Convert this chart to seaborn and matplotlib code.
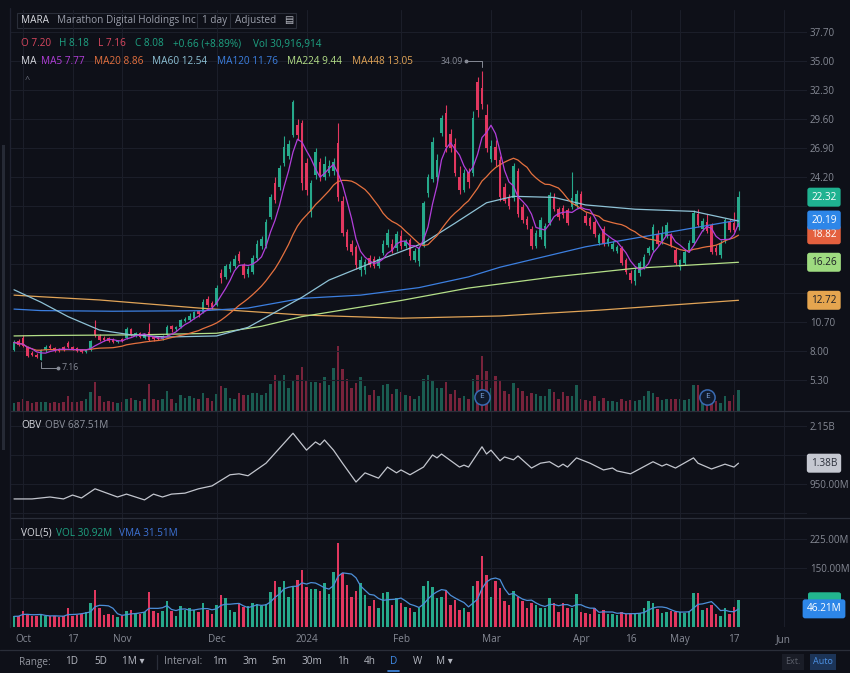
import numpy as np
import pandas as pd
import matplotlib
matplotlib.use("Agg")
import matplotlib.pyplot as plt
import matplotlib.transforms as mtransforms
from matplotlib.patches import Rectangle, FancyBboxPatch
from matplotlib.lines import Line2D
import seaborn as sns

# ---- values ----
# bar index 0 = Mon 2 Oct 2023, last bar 159 = Mon 20 May 2024 (two Sept bars before)
start_idx = -2

opens = [8.10, 8.90, 9.20, 8.40, 7.80, 7.60, 7.20, 8.05, 8.50, 8.30,
         8.20, 8.35, 8.70, 8.40, 8.25, 8.10, 7.90, 8.05, 9.95, 9.40,
         9.25, 9.20, 9.10, 8.80, 9.10, 9.20, 10.00, 9.40, 9.70, 9.20,
         9.80, 9.30, 9.30, 9.10, 9.50, 10.30, 10.00, 10.20, 10.80, 10.90,
         11.10, 11.70, 11.60, 12.80, 12.50, 12.30, 15.30, 14.90, 15.60, 15.90,
         17.00, 16.00, 15.20, 15.40, 16.70, 17.80, 17.80, 20.50, 23.60, 23.30,
         25.50, 26.20, 28.10, 29.00, 29.20, 25.50, 20.90, 24.40, 25.60, 24.20,
         24.60, 24.80, 27.40, 22.00, 19.10, 18.00, 17.70, 15.50, 15.50, 16.70,
         16.60, 15.90, 17.10, 17.90, 18.00, 17.60, 18.70, 17.80, 18.30, 16.50,
         16.40, 17.90, 22.70, 24.00, 24.20, 28.30, 30.20, 28.20, 27.30, 24.20,
         23.00, 24.70, 24.60, 33.00, 32.50, 30.00, 25.90, 27.00, 25.80, 23.30,
         22.30, 22.20, 24.80, 21.40, 20.30, 19.40, 17.80, 18.60, 17.80, 19.90,
         22.20, 21.20, 21.30, 21.10, 21.40, 21.50, 22.60, 20.60, 20.40, 20.00,
         18.10, 19.40, 18.00, 17.50, 17.30, 17.60, 16.50, 15.30, 14.50, 15.30,
         15.80, 17.10, 17.40, 18.90, 18.20, 18.70, 18.80, 17.40, 15.80, 16.20,
         17.40, 18.05, 20.80, 19.40, 20.00, 19.70, 17.60, 16.90, 18.30, 20.00,
         19.90, 19.50]
highs = [9.00, 9.10, 9.50, 8.50, 8.00, 7.80, 8.18, 8.55, 8.65, 8.40,
         8.30, 8.50, 8.95, 8.50, 8.35, 8.20, 8.20, 9.05, 10.90, 9.55,
         9.35, 9.30, 9.20, 9.05, 9.20, 10.20, 10.10, 9.80, 9.80, 9.60,
         10.60, 9.40, 9.40, 9.50, 10.40, 10.40, 10.30, 11.00, 11.20, 11.50,
         11.70, 11.80, 12.80, 13.10, 12.70, 14.10, 15.60, 16.10, 16.40, 16.90,
         17.30, 16.20, 15.90, 16.90, 18.30, 18.70, 20.30, 22.60, 24.20, 25.30,
         28.00, 27.60, 31.40, 29.60, 29.50, 26.00, 23.90, 26.90, 26.00, 26.20,
         25.80, 26.00, 29.20, 22.40, 19.40, 18.30, 17.90, 16.80, 16.60, 16.90,
         16.80, 16.80, 18.30, 19.40, 18.40, 19.20, 19.30, 18.40, 18.50, 17.60,
         17.70, 22.00, 24.50, 27.90, 26.30, 30.00, 30.90, 28.70, 27.80, 25.20,
         24.90, 25.00, 30.30, 33.50, 34.09, 31.00, 27.60, 27.60, 26.20, 23.60,
         22.60, 25.50, 25.00, 21.70, 20.60, 19.60, 19.30, 20.50, 19.90, 22.80,
         22.70, 21.40, 21.60, 21.30, 24.70, 23.00, 22.90, 20.90, 20.60, 20.20,
         19.00, 19.60, 18.60, 18.20, 17.90, 17.80, 16.70, 15.50, 15.80, 16.40,
         17.00, 17.80, 19.80, 19.30, 19.60, 20.00, 19.00, 17.60, 16.60, 17.40,
         18.30, 21.10, 21.20, 20.40, 20.80, 19.90, 17.90, 18.30, 20.40, 20.30,
         20.90, 22.90]
lows = [8.00, 8.50, 8.40, 7.40, 7.50, 7.30, 7.16, 7.95, 8.15, 7.95,
        7.90, 8.00, 8.25, 8.05, 7.90, 7.80, 7.80, 8.00, 9.30, 8.95,
        8.90, 8.85, 8.75, 8.70, 8.80, 9.10, 9.40, 9.30, 9.20, 9.10,
        8.90, 8.90, 9.00, 9.00, 9.40, 9.80, 9.90, 10.10, 10.70, 10.80,
        11.00, 11.20, 11.50, 12.10, 11.90, 12.20, 14.30, 14.70, 15.40, 15.70,
        16.20, 14.80, 14.90, 15.20, 16.50, 17.50, 17.60, 20.30, 21.80, 23.00,
        25.20, 25.90, 27.90, 27.60, 23.00, 22.50, 20.50, 24.00, 23.80, 23.90,
        24.30, 24.40, 22.00, 18.70, 17.40, 16.90, 15.60, 15.00, 15.20, 15.80,
        15.70, 15.70, 16.90, 17.70, 17.10, 17.30, 17.50, 17.60, 16.50, 16.30,
        15.90, 17.70, 22.30, 23.70, 23.80, 28.00, 26.50, 26.50, 24.30, 22.60,
        22.80, 23.20, 24.30, 29.80, 30.50, 26.50, 25.60, 25.20, 22.00, 21.80,
        21.20, 22.00, 20.50, 19.90, 19.40, 17.50, 17.60, 18.40, 17.60, 19.70,
        21.00, 20.20, 20.40, 19.70, 21.20, 21.30, 21.20, 19.70, 19.40, 18.60,
        17.90, 17.80, 17.80, 17.30, 17.10, 16.00, 15.20, 14.30, 14.10, 15.00,
        15.60, 16.90, 17.20, 17.80, 18.00, 18.50, 17.70, 16.00, 15.50, 16.00,
        17.20, 17.90, 19.50, 19.20, 19.00, 17.00, 16.90, 16.70, 18.10, 19.10,
        19.10, 19.30]
closes = [8.80, 8.60, 8.50, 7.50, 7.60, 7.42, 8.08, 8.40, 8.25, 8.05,
          8.00, 8.10, 8.35, 8.15, 8.00, 7.90, 8.10, 8.95, 9.45, 9.05,
          9.00, 8.95, 8.85, 8.95, 8.90, 10.00, 9.50, 9.70, 9.30, 9.50,
          9.00, 9.10, 9.10, 9.40, 10.20, 10.00, 10.20, 10.90, 11.00, 11.30,
          11.60, 11.40, 12.60, 12.30, 12.10, 13.90, 14.80, 15.90, 16.10, 16.60,
          16.40, 15.10, 15.60, 16.70, 18.00, 18.40, 20.00, 22.30, 22.10, 25.00,
          27.00, 27.30, 31.20, 28.10, 23.60, 23.00, 23.60, 26.50, 24.20, 25.40,
          25.20, 25.60, 22.30, 19.00, 17.70, 17.20, 16.00, 16.50, 16.30, 16.00,
          15.90, 16.60, 18.00, 19.00, 17.30, 18.90, 17.80, 18.20, 16.80, 17.30,
          17.60, 21.80, 24.20, 27.50, 25.80, 29.70, 27.00, 26.90, 24.60, 23.00,
          24.60, 23.70, 29.70, 30.40, 31.00, 26.90, 27.10, 25.80, 22.30, 22.00,
          21.50, 25.20, 20.80, 20.20, 19.70, 17.80, 19.00, 20.20, 19.60, 22.50,
          21.20, 20.50, 20.70, 19.90, 22.20, 22.60, 21.40, 19.90, 19.60, 18.90,
          18.80, 18.00, 18.40, 18.00, 17.70, 16.20, 15.40, 14.60, 15.50, 16.20,
          16.75, 17.60, 19.50, 18.00, 19.00, 19.70, 17.90, 16.20, 16.50, 17.20,
          18.10, 20.85, 19.70, 20.10, 19.20, 17.20, 17.20, 18.10, 20.20, 19.30,
          19.30, 22.32]
# daily volume, millions of shares
volumes = [27, 28, 41, 33, 27, 28, 31, 28, 27, 28,
           26, 28, 49, 28, 31, 33, 38, 62, 94, 49,
           31, 33, 31, 25, 28, 41, 42, 35, 33, 38,
           90, 41, 35, 41, 65, 41, 27, 53, 44, 48,
           44, 38, 60, 44, 33, 56, 82, 75, 44, 39,
           60, 51, 53, 60, 58, 53, 58, 90, 118, 102,
           118, 77, 102, 120, 145, 102, 96, 96, 92, 113,
           85, 140, 214, 137, 106, 77, 92, 111, 82, 53,
           68, 49, 87, 90, 56, 73, 62, 51, 48, 38,
           49, 104, 118, 102, 75, 77, 94, 56, 68, 44,
           49, 39, 104, 118, 180, 132, 77, 116, 99, 65,
           56, 92, 77, 65, 48, 60, 56, 49, 48, 73,
           62, 39, 62, 49, 49, 85, 38, 35, 33, 48,
           33, 44, 33, 33, 31, 38, 33, 35, 33, 35,
           48, 66, 60, 46, 35, 38, 41, 38, 38, 35,
           41, 87, 87, 44, 49, 56, 33, 27, 49, 33,
           52, 68]

# long moving averages (need history before the window) read at sample bars
ma60_idx = [-2, 4, 10, 17, 24, 32, 43, 50, 62, 68, 78, 89, 96, 103, 109, 118, 125, 136, 149, 159]
ma60_val = [13.7, 12.54, 11.2, 9.95, 9.5, 9.3, 9.4, 10.2, 13.0, 14.6, 16.3, 18.05, 19.9, 21.8, 22.4,
            22.3, 21.6, 21.2, 21.0, 20.1]
ma120_idx = [-2, 4, 20, 40, 50, 62, 75, 88, 99, 106, 110, 125, 140, 159]
ma120_val = [11.9, 11.76, 11.7, 11.75, 12.0, 12.9, 13.2, 13.9, 14.9, 15.8, 16.2, 17.7, 18.8, 20.19]
ma224_idx = [-2, 4, 25, 43, 53, 62, 84, 99, 118, 136, 159]
ma224_val = [9.4, 9.44, 9.5, 9.65, 10.3, 11.2, 12.7, 13.86, 14.9, 15.7, 16.26]
ma448_idx = [-2, 4, 17, 39, 62, 84, 106, 128, 159]
ma448_val = [13.2, 13.05, 12.75, 12.0, 11.35, 11.05, 11.26, 11.8, 12.72]

# on-balance volume, billions, read at sample bars
obv_idx = [-2, 2, 6, 9, 11, 13, 16, 21, 23, 27, 29, 31, 33, 36, 39, 42, 46, 48, 50, 54,
           60, 63, 65, 66, 67, 69, 71, 74, 76, 79, 81, 83, 84, 86, 89, 91, 92, 93, 97, 98,
           99, 102, 103, 104, 106, 107, 109, 110, 113, 115, 117, 119, 120, 121, 123, 126, 129, 131, 132, 135,
           140, 142, 143, 145, 149, 150, 153, 156, 158, 159]
obv_val = [0.64, 0.64, 0.68, 0.64, 0.72, 0.66, 0.85, 0.68, 0.74, 0.62, 0.74, 0.68, 0.74, 0.76, 0.85, 0.91, 1.14, 1.16, 1.12, 1.38,
           2.0, 1.65, 1.82, 1.76, 1.86, 1.65, 1.38, 0.99, 1.18, 1.07, 1.3, 1.18, 1.24, 1.14, 1.3, 1.55, 1.49, 1.57, 1.3, 1.34,
           1.3, 1.72, 1.57, 1.65, 1.43, 1.51, 1.45, 1.53, 1.28, 1.38, 1.41, 1.3, 1.36, 1.3, 1.49, 1.38, 1.24, 1.28, 1.22, 1.16,
           1.41, 1.32, 1.36, 1.28, 1.49, 1.38, 1.26, 1.36, 1.3, 1.38]

earn_idx = [102, 152]

tick_pos = [0, 11, 22, 43, 63, 84, 104, 124, 135, 146, 158, 169]
tick_lab = ["Oct", "17", "Nov", "Dec", "2024", "Feb", "Mar", "Apr", "16", "May", "17", "Jun"]

price_ticks = [5.30, 8.00, 10.70, 13.40, 16.10, 18.80, 21.50, 24.20, 26.90, 29.60, 32.30, 35.00, 37.70]
price_hidden = [13.40, 16.10, 18.80, 21.50]
obv_ticks = [0.35, 0.95, 1.55, 2.15]
obv_labels = ["", "950.00M", "", "2.15B"]
vol_ticks = [75, 150, 225]
vol_labels = ["", "150.00M", "225.00M"]

# ---- colours ----
bg = "#0e1018"
grid_c = "#1b1e29"
sep_c = "#2a2e39"
lab_c = "#868a95"
up_c, dn_c = "#26a98b", "#e2375f"
ma_cols = {"MA5": "#b23fda", "MA20": "#e5713f", "MA60": "#8ec2d6",
           "MA120": "#3c7fe0", "MA224": "#b4df88", "MA448": "#e2a558"}

sns.set_theme(style="dark", rc={"axes.facecolor": bg, "figure.facecolor": bg,
                                "axes.edgecolor": bg, "text.color": lab_c})
plt.rcParams["font.family"] = ["Open Sans", "DejaVu Sans"]

W, H = 850, 673


def fx(x):
    return x / W


def fy(y):
    return 1 - y / H


df = pd.DataFrame({"i": np.arange(start_idx, start_idx + len(closes)),
                   "open": opens, "high": highs, "low": lows, "close": closes, "vol": volumes})
df["up"] = df["close"] >= df["open"]
cols = np.where(df["up"], up_c, dn_c)
df["ma5"] = df["close"].rolling(5, min_periods=1).mean()
df["ma20"] = df["close"].rolling(20, min_periods=1).mean()
df["vma"] = df["vol"].rolling(5, min_periods=1).mean()

fig = plt.figure(figsize=(8.5, 6.73), dpi=100)
left, right = 10, 807
ax_p = fig.add_axes([fx(left), fy(411), (right - left) / W, (411 - 10) / H])
ax_o = fig.add_axes([fx(left), fy(518), (right - left) / W, 107 / H])
ax_v = fig.add_axes([fx(left), fy(627), (right - left) / W, 109 / H])
ax_pv = ax_p.twinx()
ax_p.set_zorder(ax_pv.get_zorder() + 1)
ax_p.patch.set_visible(False)
ax_pv.patch.set_facecolor(bg)

xlim = ((left - 23) / 4.5, (right - 23) / 4.5)

# volume overlay inside price pane
ax_pv.bar(df["i"], df["vol"], width=0.66, color=cols, alpha=0.5, lw=0)
ax_pv.set_ylim(0, 401 / 0.304)
ax_pv.set_yticks([])

# candles
ax_p.vlines(df["i"], df["low"], df["high"], colors=cols, lw=0.8, zorder=3)
body = (df["close"] - df["open"]).abs().clip(lower=0.06)
ax_p.bar(df["i"], body, bottom=df[["open", "close"]].min(axis=1), width=0.66,
         color=cols, lw=0, zorder=4)

# moving averages
for key, xs, ys in [("MA448", ma448_idx, ma448_val), ("MA224", ma224_idx, ma224_val),
                    ("MA120", ma120_idx, ma120_val), ("MA60", ma60_idx, ma60_val)]:
    sns.lineplot(x=xs, y=ys, ax=ax_p, color=ma_cols[key], lw=0.9, zorder=5)
sns.lineplot(data=df, x="i", y="ma20", ax=ax_p, color=ma_cols["MA20"], lw=0.9, zorder=5)
sns.lineplot(data=df, x="i", y="ma5", ax=ax_p, color=ma_cols["MA5"], lw=0.9, zorder=5)

# high / low markers
pk = int(np.argmax(df["high"]))
pi, ph = df["i"][pk], df["high"][pk]
ax_p.plot([pi - 3.6, pi, pi], [ph + 0.9, ph + 0.9, ph + 0.35], color=lab_c, lw=0.7, zorder=6)
ax_p.plot([pi - 3.6], [ph + 0.9], "o", ms=1.8, color=lab_c, zorder=6)
ax_p.text(pi - 4.3, ph + 0.9, f"{ph:.2f}", ha="right", va="center", fontsize=6.3, color=lab_c)
lw_ = int(np.argmin(df["low"]))
li, lv = df["i"][lw_], df["low"][lw_]
ax_p.plot([li, li, li + 3.8], [lv - 0.2, lv - 0.7, lv - 0.7], color=lab_c, lw=0.7, zorder=6)
ax_p.plot([li + 3.8], [lv - 0.7], "o", ms=1.8, color=lab_c, zorder=6)
ax_p.text(li + 4.6, lv - 0.7, f"{lv:.2f}", ha="left", va="center", fontsize=6.3, color=lab_c)

# earnings markers
tr_e = mtransforms.blended_transform_factory(ax_p.transData, ax_p.transAxes)
ax_p.scatter(earn_idx, [0.035] * len(earn_idx), s=120, transform=tr_e, facecolor="#101a2c",
             edgecolor="#3a6bb3", lw=1.1, zorder=7)
for e in earn_idx:
    ax_p.text(e, 0.035, "E", transform=tr_e, ha="center", va="center", fontsize=6,
              color="#7fa6de", zorder=8)

ax_p.set_ylim(37.7 - (411 - 32) / 10.74, 37.7 + 22 / 10.74)
ax_p.set_yticks(price_ticks)
ax_p.set_yticklabels(["" if t in price_hidden else f"{t:.2f}" for t in price_ticks])

# OBV pane
sns.lineplot(x=obv_idx, y=obv_val, ax=ax_o, color="#c3c6ce", lw=0.9)
ax_o.set_ylim(2.15 - (518 - 426) / 48.3, 2.15 + 15 / 48.3)
ax_o.set_yticks(obv_ticks)
ax_o.set_yticklabels(obv_labels)

# volume pane
ax_v.bar(df["i"], df["vol"], width=0.66, color=cols, lw=0)
sns.lineplot(data=df, x="i", y="vma", ax=ax_v, color="#4d8fd8", lw=0.9)
ax_v.set_ylim(0, 109 / 0.393)
ax_v.set_yticks(vol_ticks)
ax_v.set_yticklabels(vol_labels)

for ax in (ax_p, ax_o, ax_v):
    ax.set_xlim(*xlim)
    ax.set_xticks(tick_pos)
    ax.set_xlabel("")
    ax.set_ylabel("")
    ax.grid(True, color=grid_c, lw=0.8)
    ax.set_axisbelow(True)
    ax.yaxis.tick_right()
    ax.tick_params(axis="y", length=0, pad=2, labelsize=7.0, labelcolor=lab_c)
    ax.tick_params(axis="x", length=0, pad=5, labelsize=7.2, labelcolor=lab_c)
    for s in ax.spines.values():
        s.set_visible(False)
ax_p.set_xticklabels([])
ax_o.set_xticklabels([])
ax_v.set_xticklabels(tick_lab)
ax_pv.set_xlim(*xlim)
for s in ax_pv.spines.values():
    s.set_visible(False)


# right-hand value tags
def tag(ax, value, text, fc, tc):
    tr = mtransforms.blended_transform_factory(fig.transFigure, ax.transData)
    ax.text(fx(824), value, text, transform=tr, ha="center", va="center", fontsize=7.2,
            color=tc, clip_on=False, zorder=20,
            bbox=dict(boxstyle="round,pad=0.4,rounding_size=0.25", fc=fc, ec="none"))


tag(ax_p, 12.72, "12.72", "#e5a54f", "#1b1d25")
tag(ax_p, 16.26, "16.26", "#9edb80", "#1b1d25")
tag(ax_p, 18.82, "18.82", "#e4603e", "#ffffff")
tag(ax_p, 20.19, "20.19", "#2d86e8", "#ffffff")
tag(ax_p, closes[-1], f"{closes[-1]:.2f}", "#1fb290", "#ffffff")
tag(ax_o, obv_val[-1], f"{obv_val[-1]:.2f}B", "#c5c8d1", "#2a2e39")
# last-volume tag sits almost fully behind the VMA tag: only its edge shows
fig.canvas.draw()
yv = fig.transFigure.inverted().transform(ax_v.transData.transform((0, volumes[-1])))[1]
ax_v.add_patch(FancyBboxPatch((fx(808), yv - 8 / H), 33 / W, 16 / H,
                              boxstyle="round,pad=0,rounding_size=0.003", fc="#22b58e", ec="none",
                              transform=fig.transFigure, clip_on=False, zorder=19))
tag(ax_v, 46.21, "46.21M", "#2d86e8", "#ffffff")

# pane separators / frame
for yy in (411, 518):
    fig.add_artist(Line2D([fx(left), fx(850)], [fy(yy), fy(yy)], color=sep_c, lw=0.9))
fig.add_artist(Line2D([fx(0), fx(850)], [fy(650), fy(650)], color=sep_c, lw=0.9))
fig.add_artist(Line2D([fx(left), fx(left)], [fy(627), fy(8)], color="#1f2230", lw=0.9))
fig.add_artist(Rectangle((fx(2), fy(450)), 3 / W, 305 / H, transform=fig.transFigure,
                         color="#262a35", lw=0))

# legend header
fs = 7.2
fig.add_artist(Rectangle((fx(17), fy(28)), 279 / W, 15 / H, transform=fig.transFigure,
                         fill=False, ec=sep_c, lw=0.8))
for xs in (197, 230):
    fig.add_artist(Line2D([fx(xs), fx(xs)], [fy(28), fy(13)], color=sep_c, lw=0.8))
fig.text(fx(21), fy(20.5), "MARA", fontsize=fs, color="#d8dae0", va="center")
fig.text(fx(57), fy(20.5), "Marathon Digital Holdings Inc", fontsize=fs, color="#9a9eaa", va="center")
fig.text(fx(202), fy(20.5), "1 day", fontsize=fs, color="#9a9eaa", va="center")
fig.text(fx(235), fy(20.5), "Adjusted", fontsize=fs, color="#9a9eaa", va="center")
fig.text(fx(284), fy(20.5), "▤", fontsize=7, color="#b8bbc4", va="center", family="DejaVu Sans")

red_t, grn_t = "#d9475f", "#1ea383"
for x, s, c in [(21, "O 7.20", red_t), (59, "H 8.18", grn_t), (98, "L 7.16", red_t),
                (135, "C 8.08", grn_t), (173, "+0.66 (+8.89%)", grn_t), (253, "Vol 30,916,914", grn_t)]:
    fig.text(fx(x), fy(44), s, fontsize=fs, color=c, va="center")
for x, s, c in [(21, "MA", "#d8dae0"), (41, "MA5 7.77", ma_cols["MA5"]),
                (94, "MA20 8.86", ma_cols["MA20"]), (152, "MA60 12.54", ma_cols["MA60"]),
                (217, "MA120 11.76", ma_cols["MA120"]), (287, "MA224 9.44", ma_cols["MA224"]),
                (352, "MA448 13.05", ma_cols["MA448"])]:
    fig.text(fx(x), fy(61), s, fontsize=fs, color=c, va="center")
fig.text(fx(25), fy(79), "^", fontsize=6.5, color="#6f7380", va="center")

fig.text(fx(21), fy(425), "OBV", fontsize=fs, color="#d8dae0", va="center")
fig.text(fx(45), fy(425), "OBV 687.51M", fontsize=fs, color="#8e929d", va="center")
fig.text(fx(21), fy(533), "VOL(5)", fontsize=fs, color="#d8dae0", va="center")
fig.text(fx(56), fy(533), "VOL 30.92M", fontsize=fs, color=grn_t, va="center")
fig.text(fx(119), fy(533), "VMA 31.51M", fontsize=fs, color="#3d72d4", va="center")

# bottom toolbar
dim_c, opt_c = "#9598a1", "#b4b7c0"
for x, s, c in [(19, "Range:", dim_c), (65, "1D", opt_c), (94, "5D", opt_c), (122, "1M ▾", opt_c),
                (164, "Interval:", dim_c), (212, "1m", opt_c), (242, "3m", opt_c), (271, "5m", opt_c),
                (301, "30m", opt_c), (337, "1h", opt_c), (364, "4h", opt_c), (390, "D", "#3f8ae6"),
                (413, "W", opt_c), (436, "M ▾", opt_c)]:
    fig.text(fx(x), fy(662), s, fontsize=fs, color=c, va="center")
fig.add_artist(Line2D([fx(157), fx(157)], [fy(669), fy(655)], color=sep_c, lw=0.9))
fig.add_artist(Line2D([fx(388), fx(399)], [fy(671), fy(671)], color="#3f8ae6", lw=1.2))
fig.text(fx(793), fy(662), "Ext.", fontsize=6.5, color="#5c606b", ha="center", va="center",
         bbox=dict(boxstyle="square,pad=0.35", fc="#1a1d27", ec="none"))
fig.text(fx(823), fy(662), "Auto", fontsize=6.5, color="#4c91e4", ha="center", va="center",
         bbox=dict(boxstyle="square,pad=0.35", fc="#1c3457", ec="none"))

fig.savefig("out.png", dpi=100, facecolor=bg)
